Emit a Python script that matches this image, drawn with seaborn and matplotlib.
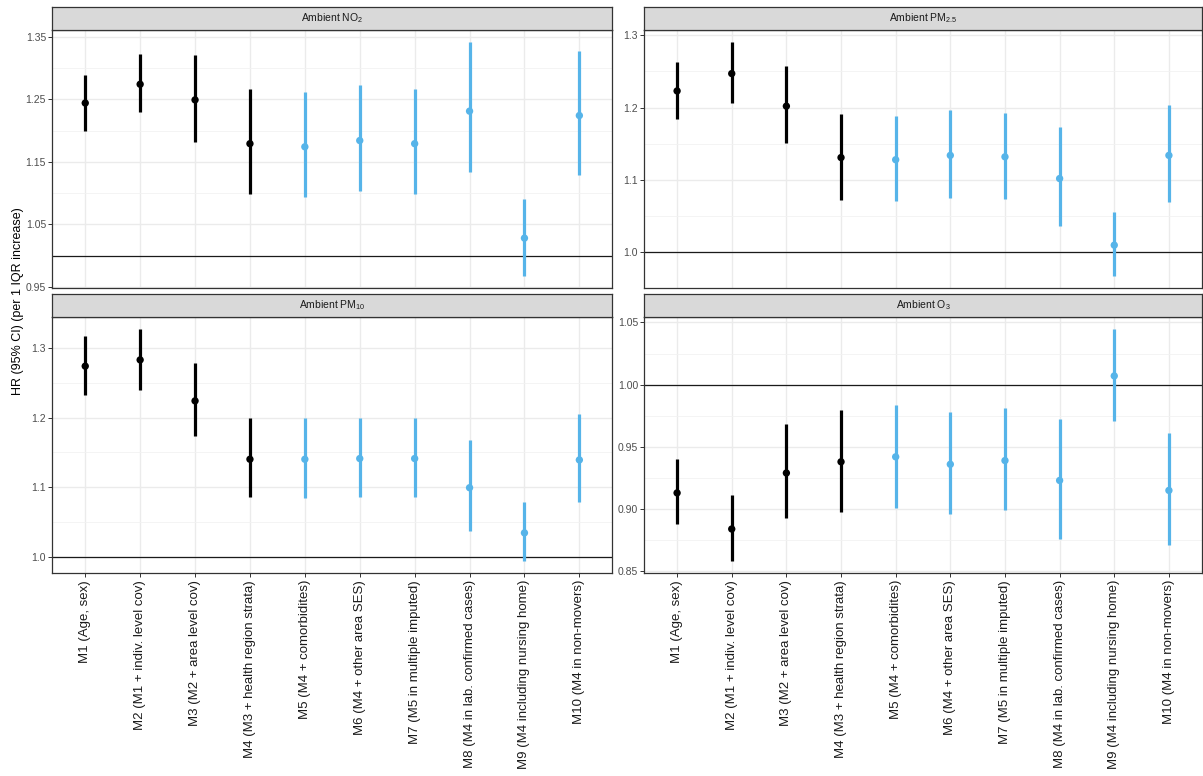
import numpy as np
import pandas as pd
import seaborn as sns
import matplotlib.pyplot as plt
from matplotlib.ticker import MultipleLocator, FormatStrFormatter

# ----- Data -----
models = ['M1 (Age, sex)', 'M2 (M1 + indiv. level cov)', 'M3 (M2 + area level cov)',
          'M4 (M3 + health region strata)', 'M5 (M4 + comorbidites)',
          'M6 (M4 + other area SES)', 'M7 (M5 in multiple imputed)',
          'M8 (M4 in lab. confirmed cases)', 'M9 (M4 including nursing home)',
          'M10 (M4 in non-movers)']
groups = ['main'] * 4 + ['sens'] * 6

no2_hr = [1.244, 1.274, 1.249, 1.179, 1.174, 1.184, 1.179, 1.231, 1.028, 1.224]
no2_lo = [1.200, 1.229, 1.181, 1.098, 1.094, 1.103, 1.099, 1.133, 0.967, 1.129]
no2_hi = [1.289, 1.323, 1.320, 1.266, 1.261, 1.273, 1.266, 1.342, 1.091, 1.327]

pm25_hr = [1.223, 1.247, 1.202, 1.131, 1.128, 1.134, 1.132, 1.102, 1.010, 1.134]
pm25_lo = [1.184, 1.207, 1.151, 1.073, 1.071, 1.075, 1.074, 1.036, 0.967, 1.070]
pm25_hi = [1.263, 1.291, 1.257, 1.191, 1.189, 1.196, 1.193, 1.173, 1.056, 1.203]

pm10_hr = [1.274, 1.283, 1.224, 1.140, 1.140, 1.141, 1.141, 1.099, 1.034, 1.139]
pm10_lo = [1.232, 1.240, 1.174, 1.085, 1.084, 1.085, 1.086, 1.036, 0.993, 1.078]
pm10_hi = [1.317, 1.328, 1.278, 1.200, 1.199, 1.200, 1.200, 1.167, 1.078, 1.205]

o3_hr = [0.913, 0.884, 0.929, 0.938, 0.942, 0.936, 0.939, 0.923, 1.007, 0.915]
o3_lo = [0.888, 0.858, 0.893, 0.898, 0.901, 0.896, 0.899, 0.876, 0.971, 0.871]
o3_hi = [0.940, 0.911, 0.968, 0.980, 0.984, 0.978, 0.981, 0.972, 1.045, 0.961]

panels = [
    ('Ambient $\\mathregular{NO_2}$', no2_hr, no2_lo, no2_hi, 0.1, '%.2f', 0.95),
    ('Ambient $\\mathregular{PM_{2.5}}$', pm25_hr, pm25_lo, pm25_hi, 0.1, '%.1f', 1.0),
    ('Ambient $\\mathregular{PM_{10}}$', pm10_hr, pm10_lo, pm10_hi, 0.1, '%.1f', 1.0),
    ('Ambient $\\mathregular{O_3}$', o3_hr, o3_lo, o3_hi, 0.05, '%.2f', 0.85),
]
palette = {'main': '#000000', 'sens': '#56B4E9'}

# ----- Style -----
sns.set_style('white')
plt.rcParams['font.family'] = ['Liberation Sans', 'DejaVu Sans']
plt.rcParams['mathtext.fontset'] = 'custom'
plt.rcParams['mathtext.rm'] = 'Liberation Sans'

W, H = 1203, 776
fig = plt.figure(figsize=(W / 100, H / 100), dpi=100)

# panel boxes in pixels: left, top, right, bottom
boxes = [(52.3, 30, 612.3, 288), (644.3, 30, 1201.7, 288),
         (52.3, 317, 612.3, 573), (644.3, 317, 1201.7, 573)]
strip_h = 23

for i, (title, hr, lo, hi, step, fmt, base) in enumerate(panels):
    l, t, r, b = boxes[i]
    ax = fig.add_axes([l / W, 1 - b / H, (r - l) / W, (b - t) / H])
    df = pd.DataFrame({'model': models, 'hr': hr, 'lo': lo, 'hi': hi, 'group': groups})

    ax.axhline(1.0, color='#1A1A1A', lw=0.9, zorder=1.5)
    ax.vlines(np.arange(len(models)), df['lo'], df['hi'],
              colors=[palette[g] for g in df['group']], lw=2.3, zorder=2)
    sns.scatterplot(data=df, x='model', y='hr', hue='group', palette=palette,
                    s=28, linewidth=0, legend=False, ax=ax, zorder=3)

    # ggplot-like 5% expansion
    rng = df['hi'].max() - df['lo'].min()
    ax.set_ylim(df['lo'].min() - 0.05 * rng, df['hi'].max() + 0.05 * rng)
    ax.set_xlim(-0.6, len(models) - 0.4)
    ax.yaxis.set_major_locator(MultipleLocator(step, offset=base % step))
    ax.yaxis.set_minor_locator(MultipleLocator(step / 2))
    ax.yaxis.set_major_formatter(FormatStrFormatter(fmt))
    ax.set_axisbelow(True)
    ax.grid(which='major', color='#EBEBEB', lw=1.0)
    ax.grid(which='minor', axis='y', color='#F2F2F2', lw=0.6)
    for s in ax.spines.values():
        s.set_color('#333333')
        s.set_linewidth(0.9)
    ax.tick_params(axis='y', which='major', length=3, width=0.7, color='#333333',
                   labelsize=7.5, labelcolor='#4D4D4D', pad=1.5, left=True)
    ax.tick_params(axis='y', which='minor', length=0)
    ax.set_xlabel('')
    ax.set_ylabel('')
    if i >= 2:
        ax.tick_params(axis='x', length=3, width=0.7, color='#333333', bottom=True,
                       labelsize=9.5, labelcolor='#1A1A1A', pad=2)
        ax.set_xticks(np.arange(len(models)))
        ax.set_xticklabels(models, rotation=90, va='top')
    else:
        ax.tick_params(axis='x', length=0, labelbottom=False)

    sax = fig.add_axes([l / W, 1 - t / H, (r - l) / W, strip_h / H])
    sax.set_facecolor('#D9D9D9')
    sax.set_xticks([])
    sax.set_yticks([])
    for s in sax.spines.values():
        s.set_color('#333333')
        s.set_linewidth(0.9)
    sax.text(0.5, 0.5, title, ha='center', va='center', fontsize=7.5,
             color='#1A1A1A', transform=sax.transAxes)

fig.text(18 / W, 1 - 301 / H, 'HR (95% CI) (per 1 IQR increase)', rotation=90,
         ha='center', va='center', fontsize=9, color='#000000')

fig.savefig('out.png', dpi=100)
